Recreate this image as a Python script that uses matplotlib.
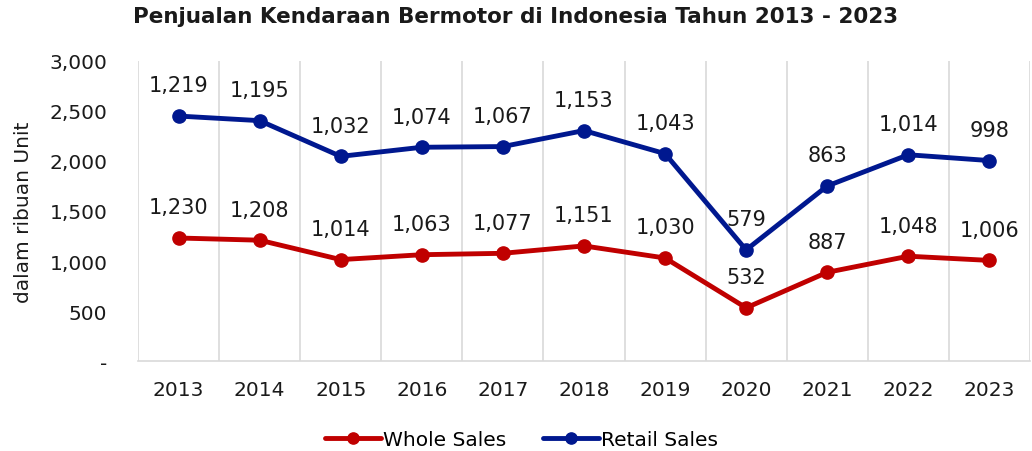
import numpy as np
import matplotlib.pyplot as plt
from matplotlib.ticker import FuncFormatter

# Penjualan kendaraan bermotor (ribuan unit), retail ditumpuk di atas whole sales
years = ["2013", "2014", "2015", "2016", "2017", "2018", "2019", "2020", "2021", "2022", "2023"]
whole_sales = [1230, 1208, 1014, 1063, 1077, 1151, 1030, 532, 887, 1048, 1006]
retail_sales = [1219, 1195, 1032, 1074, 1067, 1153, 1043, 579, 863, 1014, 998]

RED = "#C00000"
BLUE = "#00188F"


def main():
    plt.rcParams['font.family'] = ['DejaVu Sans']
    x = np.arange(len(years))
    whole = np.array(whole_sales)
    stacked = whole + np.array(retail_sales)

    fig = plt.figure(figsize=(10.32, 4.52), dpi=100)
    ax = fig.add_axes([0.1337, 0.199, 0.8643, 0.664])

    ax.plot(x, whole, color=RED, lw=3.5, marker="o", ms=9.5, label="Whole Sales",
            solid_capstyle="round", zorder=3)
    ax.plot(x, stacked, color=BLUE, lw=3.5, marker="o", ms=9.5, label="Retail Sales",
            solid_capstyle="round", zorder=3)

    for xi, yi, v in zip(x, whole, whole_sales):
        ax.annotate(f"{v:,}", (xi, yi), xytext=(0, 22), textcoords="offset points",
                    ha="center", va="center", fontsize=15, color="#1a1a1a")
    for xi, yi, v in zip(x, stacked, retail_sales):
        ax.annotate(f"{v:,}", (xi, yi), xytext=(0, 22), textcoords="offset points",
                    ha="center", va="center", fontsize=15, color="#1a1a1a")

    ax.set_xlim(-0.5, len(years) - 0.5)
    ax.set_ylim(0, 3000)
    ax.set_yticks(np.arange(0, 3001, 500))
    ax.yaxis.set_major_formatter(FuncFormatter(lambda v, p: "-" if v == 0 else f"{int(v):,}"))
    ax.set_xticks(x)
    ax.set_xticklabels(years)
    ax.set_xticks(np.arange(-0.5, len(years) - 0.4, 1), minor=True)
    ax.grid(which="minor", axis="x", color="#D9D9D9", lw=1.2)
    ax.tick_params(which="both", length=0)
    ax.tick_params(axis="both", labelsize=14.5, colors="#1a1a1a")
    ax.tick_params(axis="x", pad=14)
    ax.tick_params(axis="y", pad=22)
    for s in ["top", "right", "left"]:
        ax.spines[s].set_visible(False)
    ax.spines["bottom"].set_color("#D9D9D9")
    ax.spines["bottom"].set_linewidth(1.2)

    ax.set_ylabel("dalam ribuan Unit", fontsize=14.5, color="#1a1a1a", labelpad=12)
    fig.suptitle("Penjualan Kendaraan Bermotor di Indonesia Tahun 2013 - 2023",
                 x=0.5, y=0.985, fontsize=15.5, fontweight="bold", color="#1a1a1a")

    ax.legend(loc="upper center", bbox_to_anchor=(0.43, -0.17), ncol=2, frameon=False,
              fontsize=14.5, handlelength=2.8, handletextpad=0.1, columnspacing=1.8,
              markerscale=0.85)

    fig.savefig("out.png", dpi=100)


if __name__ == "__main__":
    main()
